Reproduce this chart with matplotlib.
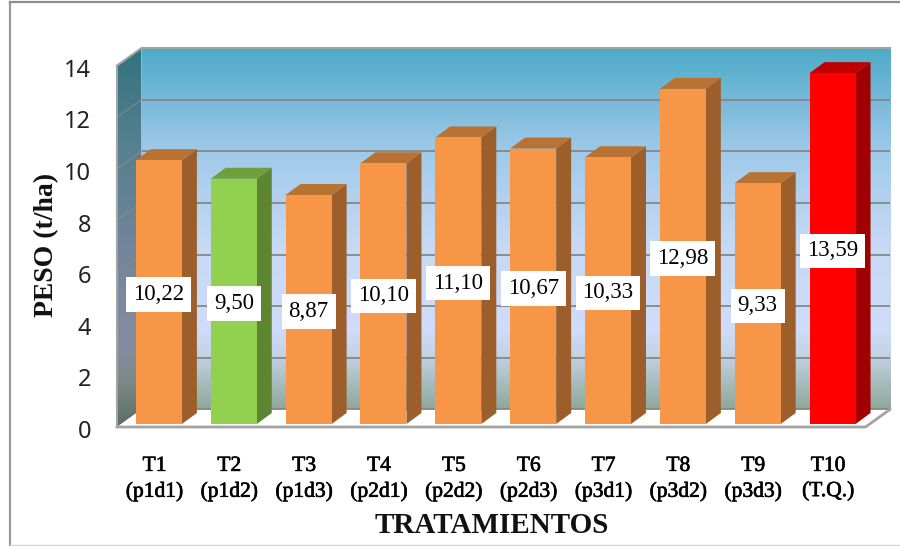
import numpy as np
import matplotlib
matplotlib.use("Agg")
import matplotlib.pyplot as plt
import matplotlib.patheffects as pe
from matplotlib.colors import LinearSegmentedColormap
from matplotlib.lines import Line2D
from matplotlib.patches import Polygon
from matplotlib.transforms import ScaledTranslation

treatments = ["T1", "T2", "T3", "T4", "T5", "T6", "T7", "T8", "T9", "T10"]
codes = ["(p1d1)", "(p1d2)", "(p1d3)", "(p2d1)", "(p2d2)",
         "(p2d3)", "(p3d1)", "(p3d2)", "(p3d3)", "(T.Q.)"]
weights = [10.22, 9.50, 8.87, 10.10, 11.10, 10.67, 10.33, 12.98, 9.33, 13.59]
yticks = [0, 2, 4, 6, 8, 10, 12, 14]

ORANGE = ("#F79646", "#9C5F2B", "#B87333")
GREEN = ("#92D050", "#5E8632", "#6F9E3D")
RED = ("#FF0000", "#A00000", "#C00000")
palette = [ORANGE, GREEN] + [ORANGE] * 7 + [RED]

# Oblique projection: offsets of the back wall and of the bars, in data units.
WALL_DX, WALL_DY = 0.3275, 0.68
BAR_SHIFT_X, BAR_SHIFT_Y = 0.06, 0.116
BAR_DEPTH_X, BAR_DEPTH_Y = 0.20, 0.426
BAR_WIDTH = 0.615
GRID = "#868686"
EDGE = "#A3A3A3"

W, H = 900, 546
fig = plt.figure(figsize=(W / 100, H / 100), dpi=100, facecolor="white")
ax = fig.add_axes([117 / W, (H - 427) / H, (890 - 117) / W, (427 - 48) / H])
ax.set_xlim(-0.5, 9.5 + WALL_DX)
ax.set_ylim(0, 14 + WALL_DY)
ax.set_facecolor("none")
for spine in ax.spines.values():
    spine.set_visible(False)

# Outer chart frame
fig.add_artist(Line2D([9.5 / W, 9.5 / W], [0, (H - 2) / H], color="#9A9A9A", lw=1.6))
fig.add_artist(Line2D([9.5 / W, 1], [(H - 2) / H, (H - 2) / H], color="#8C8C8C", lw=1.6))
fig.add_artist(Line2D([9.5 / W, 1], [1 / H, 1 / H], color="#D4D4D4", lw=1.0))

ramp = np.linspace(0, 1, 256).reshape(-1, 1)
back_cmap = LinearSegmentedColormap.from_list("back_wall", [
    (0.00, "#4BACC6"), (0.14, "#76B8D9"), (0.29, "#A0CAE9"), (0.55, "#C6D9F5"),
    (0.78, "#CFDCFA"), (0.85, "#C4D3E6"), (1.00, "#8FA899")])
side_cmap = LinearSegmentedColormap.from_list("side_wall", [
    (0.00, "#32727F"), (0.25, "#55808F"), (0.55, "#74859A"), (0.78, "#858CA2"),
    (0.88, "#7C8A8A"), (1.00, "#5B6E5E")])

# Back wall
ax.imshow(ramp, cmap=back_cmap, aspect="auto", zorder=1, interpolation="bilinear",
          extent=(-0.5 + WALL_DX, 9.5 + WALL_DX, WALL_DY, 14 + WALL_DY))

# Left wall, clipped to its parallelogram
side_shape = Polygon([(-0.5, 0), (-0.5 + WALL_DX, WALL_DY),
                      (-0.5 + WALL_DX, 14 + WALL_DY), (-0.5, 14)],
                     closed=True, transform=ax.transData, facecolor="none", edgecolor="none")
ax.add_patch(side_shape)
side_img = ax.imshow(ramp, cmap=side_cmap, aspect="auto", zorder=1, interpolation="bilinear",
                     extent=(-0.5, -0.5 + WALL_DX, 0, 14 + WALL_DY))
side_img.set_clip_path(side_shape)

# Floor
ax.add_patch(Polygon([(-0.5, 0), (9.5, 0), (9.5 + WALL_DX, WALL_DY), (-0.5 + WALL_DX, WALL_DY)],
                     closed=True, facecolor="white", edgecolor="none", zorder=1.5, clip_on=False))

# Gridlines on both walls
for v in yticks:
    ax.plot([-0.5 + WALL_DX, 9.5 + WALL_DX], [v + WALL_DY] * 2, color=GRID, lw=1.3,
            zorder=2, clip_on=False, solid_capstyle="butt")
    if 0 < v < 14:
        ax.plot([-0.5, -0.5 + WALL_DX], [v, v + WALL_DY], color="#8C8C8C", lw=1.0,
                alpha=0.7, zorder=2, clip_on=False)

# Wall and floor outlines
ax.plot([-0.5, -0.5 + WALL_DX, 9.5 + WALL_DX], [14, 14 + WALL_DY, 14 + WALL_DY], color=EDGE,
        lw=1.5, zorder=2.5, clip_on=False)
ax.plot([-0.5, -0.5], [0, 14], color=EDGE, lw=1.5, zorder=2.5, clip_on=False)
ax.plot([-0.5, 9.5, 9.5 + WALL_DX], [0, 0, WALL_DY], color=EDGE, lw=2.0, zorder=2.5,
        clip_on=False, solid_joinstyle="miter")

# Bars: front face through ax.bar, side and top as projected polygons
x = np.arange(len(weights)) + BAR_SHIFT_X
fronts = [c[0] for c in palette]
ax.bar(x, weights, width=BAR_WIDTH, bottom=BAR_SHIFT_Y, color=fronts, zorder=4, clip_on=False)
half = BAR_WIDTH / 2
for xi, v, (_, side, top) in zip(x, weights, palette):
    y0, y1 = BAR_SHIFT_Y, v + BAR_SHIFT_Y
    ax.add_patch(Polygon([(xi + half, y0), (xi + half + BAR_DEPTH_X, y0 + BAR_DEPTH_Y),
                          (xi + half + BAR_DEPTH_X, y1 + BAR_DEPTH_Y), (xi + half, y1)],
                         closed=True, facecolor=side, edgecolor="none", zorder=3.5, clip_on=False))
    ax.add_patch(Polygon([(xi - half, y1), (xi + half, y1),
                          (xi + half + BAR_DEPTH_X, y1 + BAR_DEPTH_Y),
                          (xi - half + BAR_DEPTH_X, y1 + BAR_DEPTH_Y)],
                         closed=True, facecolor=top, edgecolor="none", zorder=3.5, clip_on=False))

# Value labels in the middle of each bar
for xi, v in zip(x, weights):
    ax.text(xi, v / 2 + BAR_SHIFT_Y - 0.09, f"{v:.2f}".replace(".", ","), ha="center", va="center",
            family="Liberation Serif", fontsize=16.5, color="black", zorder=6,
            bbox=dict(boxstyle="square,pad=0.3", facecolor="white", edgecolor="none"))

# Axes text
ax.set_yticks(yticks)
ax.set_yticklabels([str(v) for v in yticks], family="Noto Sans", fontsize=17, color="#222222")
ax.tick_params(axis="y", length=0, pad=18.5)
nudge = ScaledTranslation(0, -1.5 / 72, fig.dpi_scale_trans)
for lab in ax.get_yticklabels():
    lab.set_transform(lab.get_transform() + nudge)

ax.set_xticks(np.arange(len(treatments)))
ax.set_xticklabels([f"{t}\n{c}" for t, c in zip(treatments, codes)], family="Liberation Serif",
                   fontsize=15.5, color="black", linespacing=1.42)
ax.tick_params(axis="x", length=0, pad=21.5)
# A thin stroke gives the category labels a semi-bold weight
for lab in ax.get_xticklabels():
    lab.set_path_effects([pe.withStroke(linewidth=0.45, foreground="black")])

fig.text(492 / W, (H - 525.5) / H, "TRATAMIENTOS", ha="center", va="center",
         family="Liberation Serif", fontweight="bold", fontsize=21, color="#111111")
fig.text(47 / W, (H - 245) / H, "PESO (t/ha)", ha="center", va="center", rotation=90,
         family="Liberation Serif", fontweight="bold", fontsize=20, color="#111111")

fig.savefig("out.png", dpi=100, facecolor="white")
